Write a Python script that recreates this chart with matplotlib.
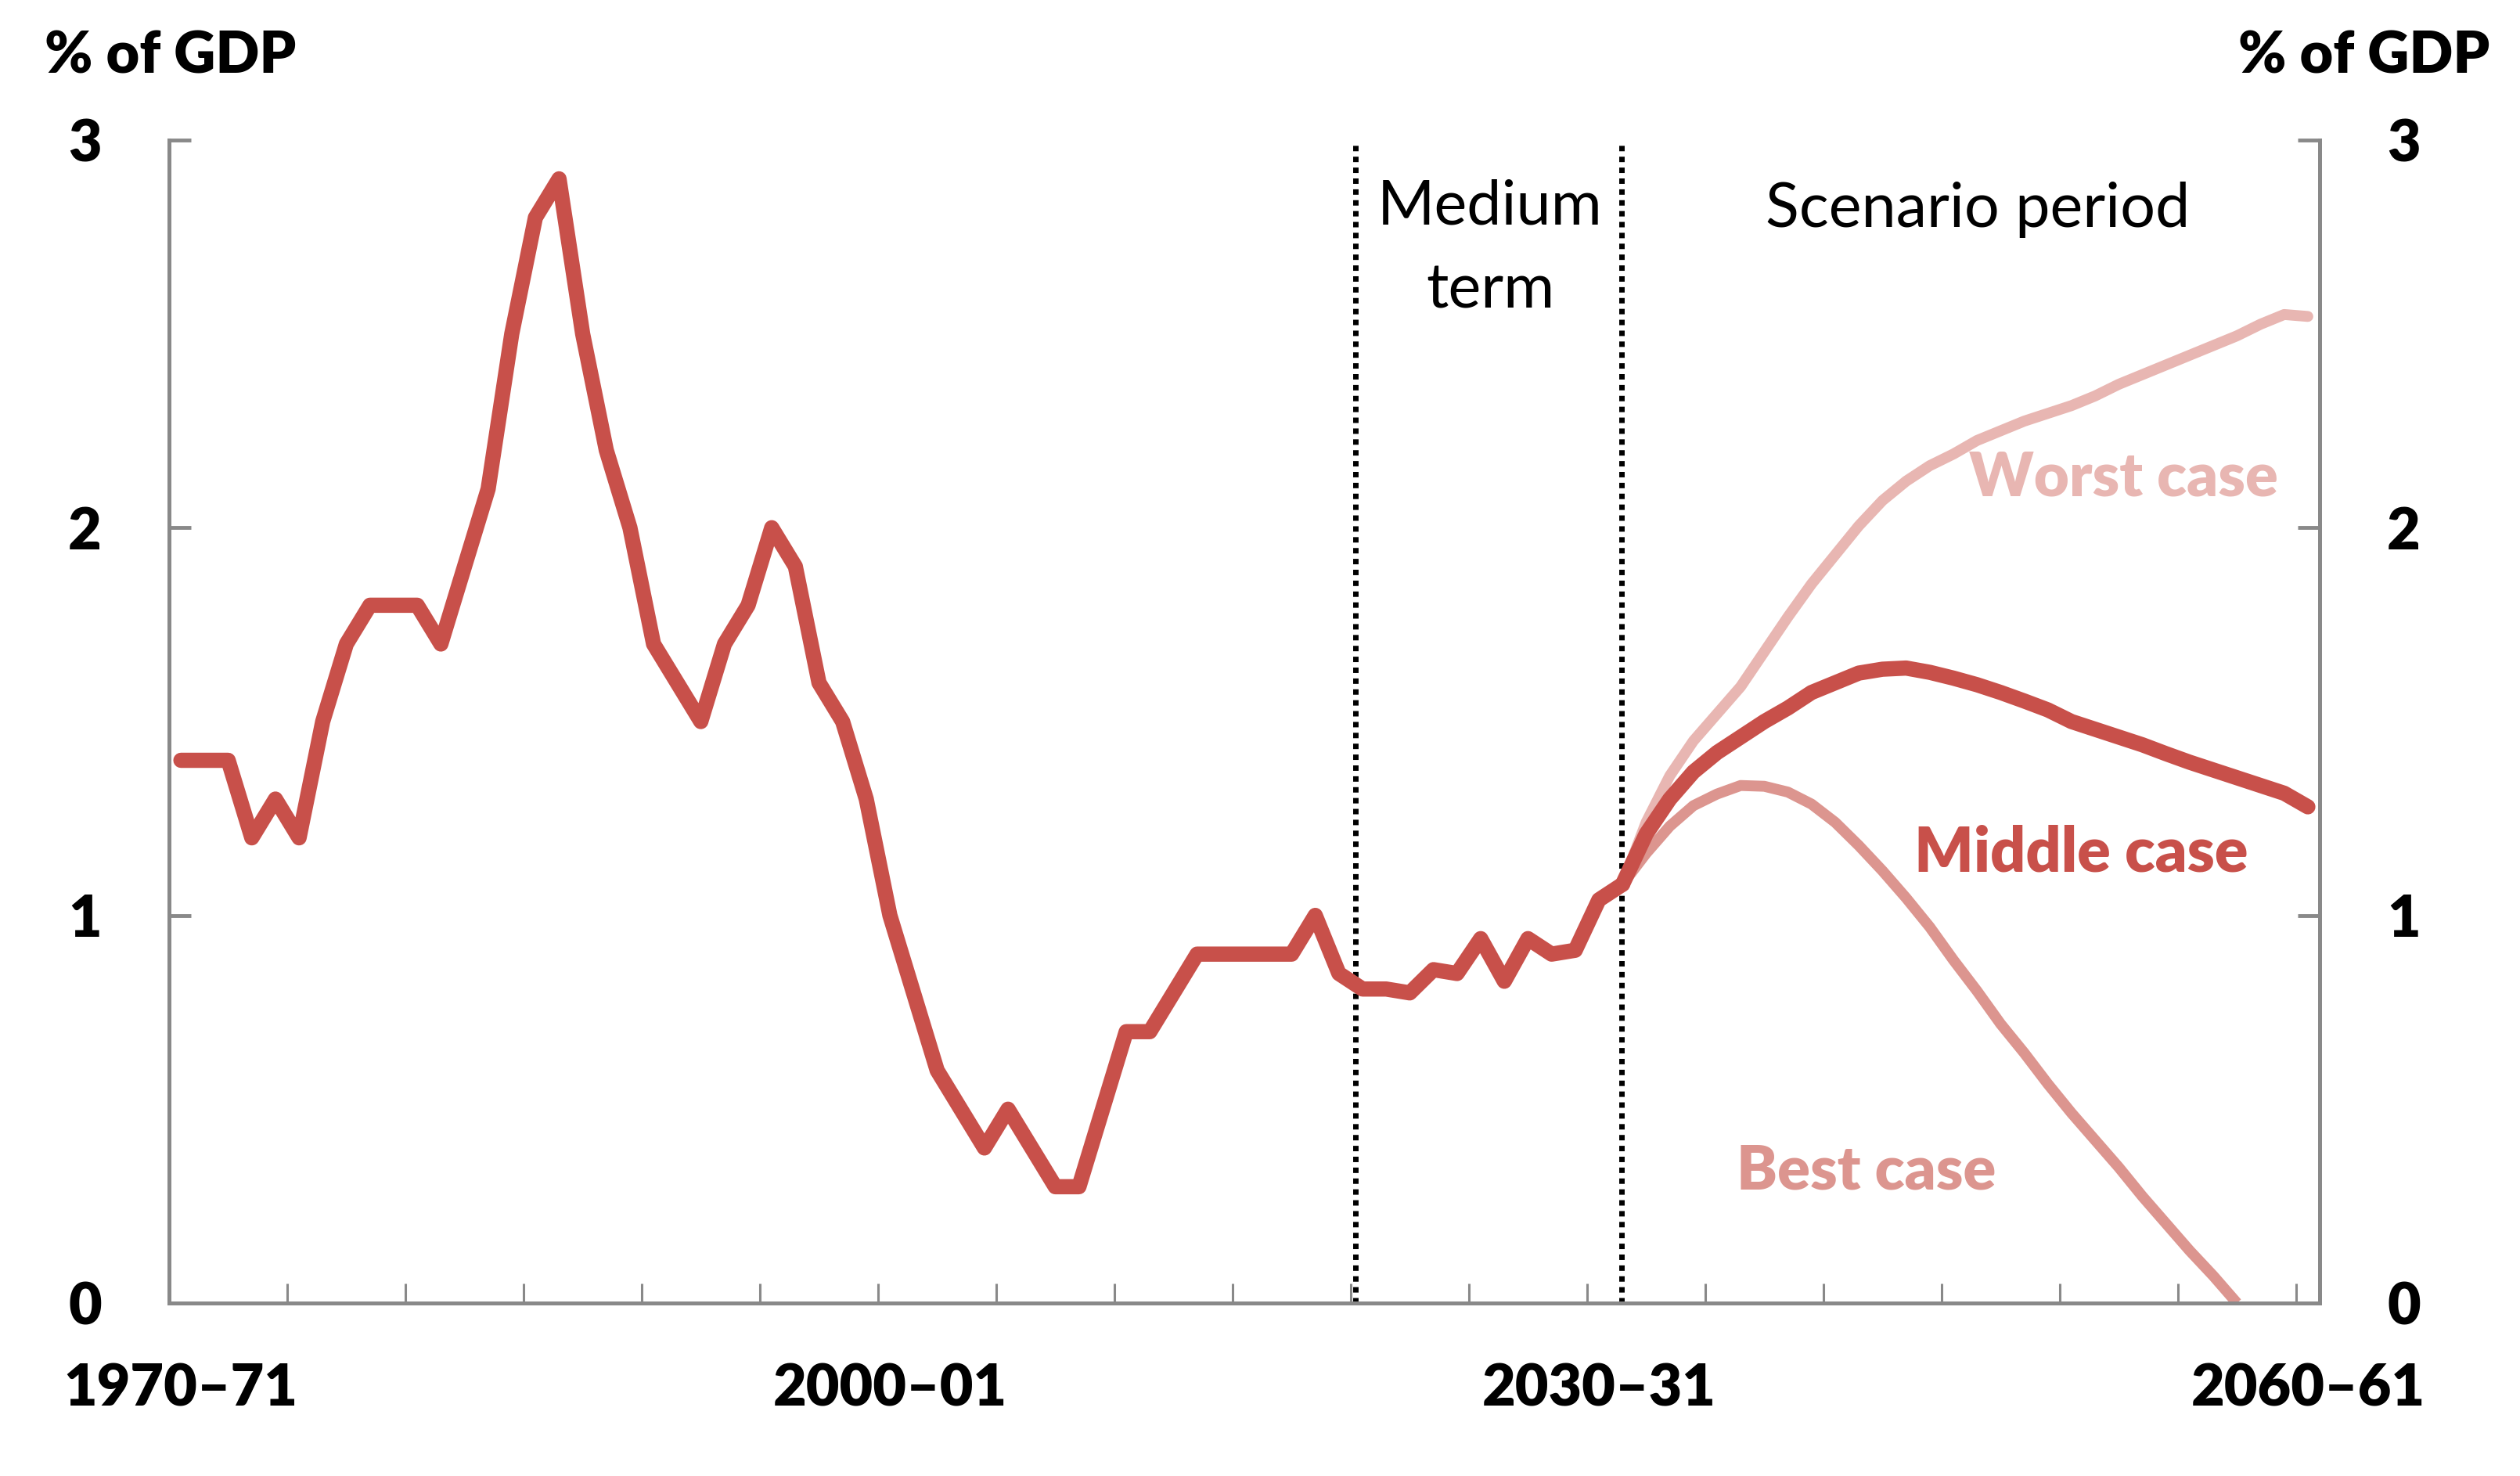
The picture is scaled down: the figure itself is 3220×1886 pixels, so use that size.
#!/usr/bin/env python3
"""Historical and scenario projections, % of GDP (1970-71 to 2060-61)."""

import matplotlib

matplotlib.use("Agg")
import matplotlib.pyplot as plt
import numpy as np

plt.rcParams["font.family"] = ["Lato", "DejaVu Sans"]

# financial years, one category per year
YEARS = [f"{y}\u2013{str(y + 1)[-2:]}" for y in range(1970, 2061)]
LABELLED_YEARS = ["1970\u201371", "2000\u201301", "2030\u201331", "2060\u201361"]

# history + medium term (1970-71 .. 2031-32)
history = [
    1.4, 1.4, 1.4, 1.2, 1.3, 1.2, 1.5, 1.7, 1.8, 1.8,
    1.8, 1.7, 1.9, 2.1, 2.5, 2.8, 2.9, 2.5, 2.2, 2.0,
    1.7, 1.6, 1.5, 1.7, 1.8, 2.0, 1.9, 1.6, 1.5, 1.3,
    1.0, 0.8, 0.6, 0.5, 0.4, 0.5, 0.4, 0.3, 0.3, 0.5,
    0.7, 0.7, 0.8, 0.9, 0.9, 0.9, 0.9, 0.9, 1.0, 0.85,
    0.81, 0.81, 0.80, 0.86, 0.85, 0.94, 0.83, 0.94, 0.90, 0.91,
    1.04, 1.08,
]

# scenarios start at 2031-32 (same point as end of history)
worst_case = [
    1.08, 1.24, 1.36, 1.45, 1.52, 1.59, 1.68, 1.77, 1.855, 1.93,
    2.005, 2.07, 2.12, 2.16, 2.19, 2.225, 2.25, 2.275, 2.295, 2.315,
    2.34, 2.37, 2.395, 2.42, 2.445, 2.47, 2.495, 2.525, 2.55, 2.545,
]
middle_case = [
    1.08, 1.21, 1.30, 1.37, 1.42, 1.46, 1.50, 1.535, 1.575, 1.60,
    1.625, 1.635, 1.638, 1.627, 1.612, 1.595, 1.575, 1.553, 1.53, 1.50,
    1.48, 1.46, 1.44, 1.417, 1.395, 1.375, 1.355, 1.335, 1.315, 1.28,
]
best_case = [
    1.08, 1.16, 1.23, 1.283, 1.313, 1.335, 1.333, 1.318, 1.287, 1.24,
    1.18, 1.115, 1.045, 0.97, 0.885, 0.805, 0.72, 0.645, 0.565, 0.49,
    0.42, 0.35, 0.275, 0.205, 0.135, 0.07, 0.0,
]

RED = "#C8504A"
PINK = "#E8B6B2"
ROSE = "#DC958F"
GREY = "#898989"
LABEL_WEIGHT = "heavy"


def main() -> None:
    fig = plt.figure(figsize=(32.2, 18.86), dpi=100)
    ax = fig.add_axes([0.0671, 0.1172, 0.8534, 0.7879])

    n = len(YEARS)
    start = len(history) - 1
    ax.plot(np.arange(len(history)), history, color=RED, lw=14,
            solid_joinstyle="round", solid_capstyle="round", zorder=4)
    ax.plot(np.arange(start, start + len(worst_case)), worst_case, color=PINK, lw=10,
            solid_joinstyle="round", solid_capstyle="round", zorder=2)
    ax.plot(np.arange(start, start + len(best_case)), best_case, color=ROSE, lw=10,
            solid_joinstyle="round", solid_capstyle="butt", zorder=2)
    ax.plot(np.arange(start, start + len(middle_case)), middle_case, color=RED, lw=14,
            solid_joinstyle="round", solid_capstyle="round", zorder=3)

    # medium term / scenario period separators
    for xpos in (49.7, start - 0.05):
        ax.plot([xpos, xpos], [0, 3], color="black", lw=5,
                linestyle=(0, (1, 1)), zorder=1)

    ax.set_xlim(-0.5, n - 0.5)
    ax.set_ylim(0, 3)

    # category boundaries every five years, labels on selected categories
    ax.set_xticks(np.arange(-0.5, n - 0.5, 5))
    ax.set_xticklabels([])
    ax.set_xticks([YEARS.index(y) for y in LABELLED_YEARS], minor=True)
    ax.set_xticklabels(LABELLED_YEARS, minor=True)
    ax.tick_params(axis="x", which="major", direction="in", length=18, width=2.2,
                   color=GREY)
    ax.tick_params(axis="x", which="minor", length=0, pad=55, labelsize=53)
    for lab in ax.get_xticklabels(minor=True):
        lab.set_fontweight(LABEL_WEIGHT)

    ax.set_yticks([0, 1, 2, 3])
    ax.set_yticklabels(["0", "1", "2", "3"])
    ax.tick_params(axis="y", direction="in", length=20, width=3.5, color=GREY,
                   pad=62, labelsize=53, right=True, labelright=True)
    for tick in ax.yaxis.get_major_ticks():
        tick.label1.set_fontweight(LABEL_WEIGHT)
        tick.label2.set_fontweight(LABEL_WEIGHT)

    for side in ("left", "right", "bottom"):
        ax.spines[side].set_color(GREY)
        ax.spines[side].set_linewidth(3.6)
    ax.spines["top"].set_visible(False)

    fig.text(218 / 3220, 1 - 72 / 1886, "% of GDP", ha="center", va="center",
             fontsize=53, fontweight=LABEL_WEIGHT)
    fig.text(3021 / 3220, 1 - 72 / 1886, "% of GDP", ha="center", va="center",
             fontsize=53, fontweight=LABEL_WEIGHT)

    ax.text(55.4, 2.72, "Medium\nterm", ha="center", va="center", fontsize=57,
            linespacing=1.6)
    ax.text(76.05, 2.82, "Scenario period", ha="center", va="center", fontsize=57)

    ax.text(82.2, 2.127, "Worst case", ha="center", va="center", fontsize=56,
            fontweight=LABEL_WEIGHT, color=PINK)
    ax.text(80.4, 1.16, "Middle case", ha="center", va="center", fontsize=57,
            fontweight=LABEL_WEIGHT, color=RED)
    ax.text(71.3, 0.34, "Best case", ha="center", va="center", fontsize=56,
            fontweight=LABEL_WEIGHT, color=ROSE)

    fig.savefig("out.png", dpi=100, facecolor="white")
    plt.close(fig)


if __name__ == "__main__":
    main()
